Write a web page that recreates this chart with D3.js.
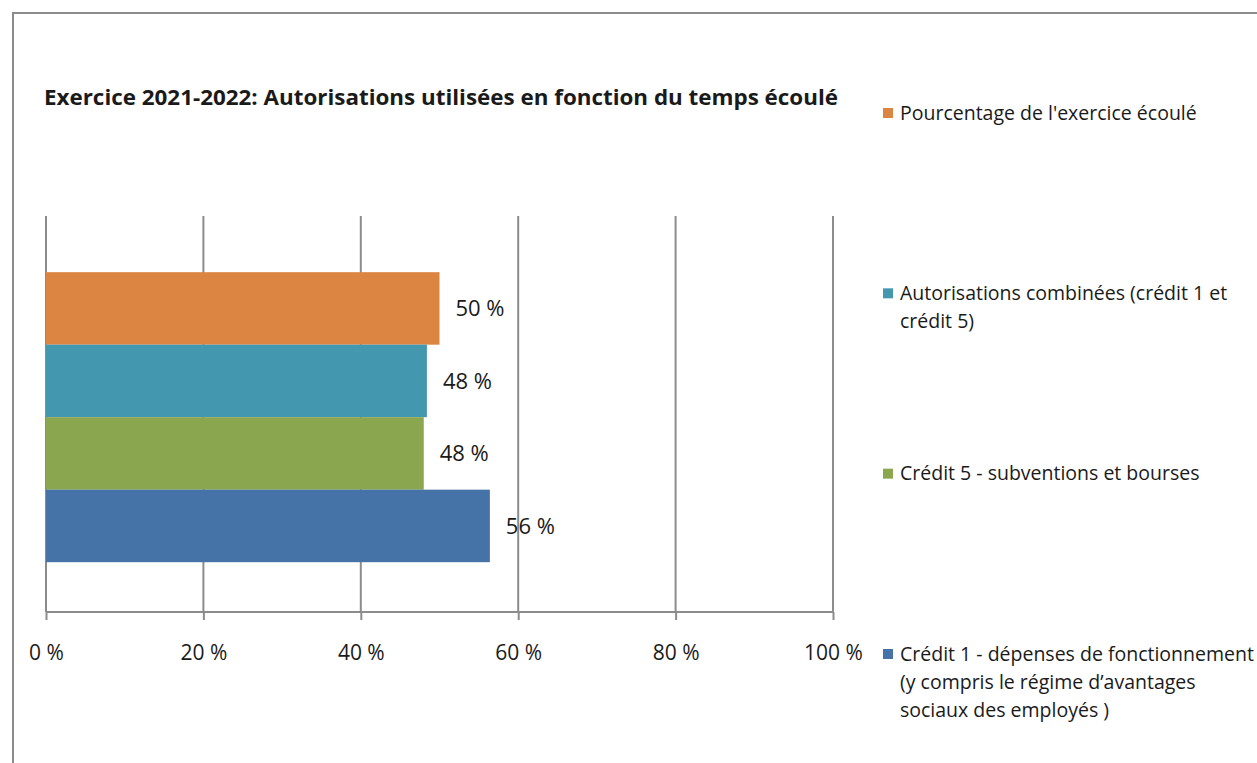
<!DOCTYPE html>
<html>
<head>
<meta charset="utf-8">
<script src="https://cdn.jsdelivr.net/npm/d3@7"></script>
<style>
  body { margin: 0; background: #fff; }
  text { font-family: "Open Sans", Lato, sans-serif; fill: #1a1a1a; }
</style>
</head>
<body>
<div id="chart"></div>
<script>
var title = "Exercice 2021-2022: Autorisations utilisées en fonction du temps écoulé";

var seriesNames = ["Pourcentage", "Combinees", "Credit5", "Credit1"];
var seriesLabels = [
    ["Pourcentage de l'exercice écoulé"],
    ["Autorisations combinées (crédit 1 et", "crédit 5)"],
    ["Crédit 5 - subventions et bourses"],
    ["Crédit 1 - dépenses de fonctionnement", "(y compris le régime d\u2019avantages", "sociaux des employés )"]
];
var seriesValues = [50, 48.4, 48, 56.4];
var valueLabels = ["50 %", "48 %", "48 %", "56 %"];
var seriesColors = ["#dc8441", "#4398b0", "#8aa64f", "#4572a7"];
var xTicks = [0, 20, 40, 60, 80, 100];

var W = 1257, H = 763;
var margin = { top: 216, left: 46, right: W - 833, bottom: H - 612 },
    width = W - margin.left - margin.right,
    height = H - margin.top - margin.bottom;

var svg = d3.select("#chart")
    .append("svg")
    .attr("width", W)
    .attr("height", H);

// outer frame
svg.append("rect")
    .attr("x", 13).attr("y", 13)
    .attr("width", W + 20).attr("height", H + 20)
    .attr("fill", "none")
    .attr("stroke", "#8c8c8c")
    .attr("stroke-width", 2);

svg.append("text")
    .attr("x", 44)
    .attr("y", 105)
    .attr("font-weight", "bold")
    .attr("textLength", 794)
    .attr("lengthAdjust", "spacingAndGlyphs")
    .style("font-size", "21px")
    .text(title);

var g = svg.append("g")
    .attr("transform", "translate(" + margin.left + "," + margin.top + ")");

var x = d3.scaleLinear()
    .domain([0, 100])
    .range([0, width]);

var y = d3.scaleBand()
    .domain(seriesNames)
    .range([0, height])
    .paddingInner(0)
    .paddingOuter(0.731)
    .align(0.53);

// vertical grid
g.append("g")
    .selectAll("line")
    .data(xTicks)
    .enter().append("line")
    .attr("x1", function (d) { return x(d); })
    .attr("x2", function (d) { return x(d); })
    .attr("y1", 0)
    .attr("y2", height)
    .attr("stroke", "#8c8c8c")
    .attr("stroke-width", 2);

g.selectAll(".bar")
    .data(seriesNames)
    .enter().append("rect")
    .attr("class", "bar")
    .attr("x", x(0))
    .attr("y", function (d) { return y(d); })
    .attr("width", function (d, i) { return x(seriesValues[i]) - x(0); })
    .attr("height", y.bandwidth())
    .attr("fill", function (d, i) { return seriesColors[i]; });

g.selectAll(".val")
    .data(seriesNames)
    .enter().append("text")
    .attr("class", "val")
    .attr("x", function (d, i) { return x(seriesValues[i]) + 16; })
    .attr("y", function (d) { return y(d) + y.bandwidth() / 2; })
    .attr("dy", "0.35em")
    .style("font-size", "22px")
    .text(function (d, i) { return valueLabels[i]; });

// x axis
var xAxis = g.append("g")
    .attr("transform", "translate(0," + height + ")")
    .call(d3.axisBottom(x)
        .tickValues(xTicks)
        .tickSize(8)
        .tickPadding(25)
        .tickFormat(function (d) { return d + " %"; }));
xAxis.select(".domain")
    .attr("stroke", "#8c8c8c")
    .attr("stroke-width", 2)
    .attr("d", "M0,0H" + width);
xAxis.selectAll(".tick line")
    .attr("stroke", "#8c8c8c")
    .attr("stroke-width", 2);
xAxis.selectAll(".tick text")
    .style("font-size", "21px")
    .attr("fill", "#1a1a1a")
    .style("font-family", "'Open Sans', Lato, sans-serif");

// legend
var ly = d3.scalePoint()
    .domain(seriesNames)
    .range([113, 654]);

var legend = svg.selectAll(".legend")
    .data(seriesNames)
    .enter().append("g")
    .attr("class", "legend")
    .attr("transform", function (d) { return "translate(883," + ly(d) + ")"; });

legend.append("rect")
    .attr("x", 0)
    .attr("y", -5)
    .attr("width", 10)
    .attr("height", 10)
    .attr("fill", function (d, i) { return seriesColors[i]; });

legend.append("text")
    .attr("x", 17)
    .attr("y", 0)
    .style("font-size", "19.5px")
    .attr("fill", "#262626")
    .selectAll("tspan")
    .data(function (d, i) { return seriesLabels[i]; })
    .enter().append("tspan")
    .attr("x", 17)
    .attr("dy", function (d, i) { return i === 0 ? "0.35em" : "28px"; })
    .text(function (d) { return d; });
</script>
</body>
</html>
